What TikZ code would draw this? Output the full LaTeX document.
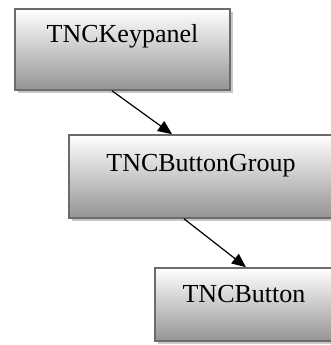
\documentclass[tikz,border=0pt]{standalone}
\usepackage{fontspec}
\setmainfont{Liberation Serif}
\usepackage{tikz}
\usetikzlibrary{arrows.meta,shadows}

\begin{document}
\begin{tikzpicture}[x=1pt,y=1pt,
		classbox/.style={draw=black!58,line width=1.6pt,top color=white,bottom color=black!42,
			inner sep=0pt,font=\fontsize{26}{30}\selectfont,
			drop shadow={shadow xshift=3pt,shadow yshift=-3pt,fill=black!22,opacity=1}},
		link/.style={->,>={Triangle[length=14pt,width=12pt]},line width=1.2pt}]
		\useasboundingbox (0,0) rectangle (331,345);

		\node[classbox,minimum width=215pt,text height=34pt,text depth=47pt] (keypanel) at (122.5,295.5) {TNCKeypanel};
		\node[classbox,minimum width=264pt,text height=37pt,text depth=46pt] (group) at (201,168.5) {TNCButtonGroup};
		\node[classbox,minimum width=178pt,text height=35pt,text depth=38pt] (button) at (244,40.5) {TNCButton};

		\draw [link] ([xshift=-10.5pt]keypanel.south) -- ([xshift=-29pt]group.north);
		\draw [link] ([xshift=-17pt]group.south) -- ([xshift=2pt]button.north);
	\end{tikzpicture}
\end{document}
